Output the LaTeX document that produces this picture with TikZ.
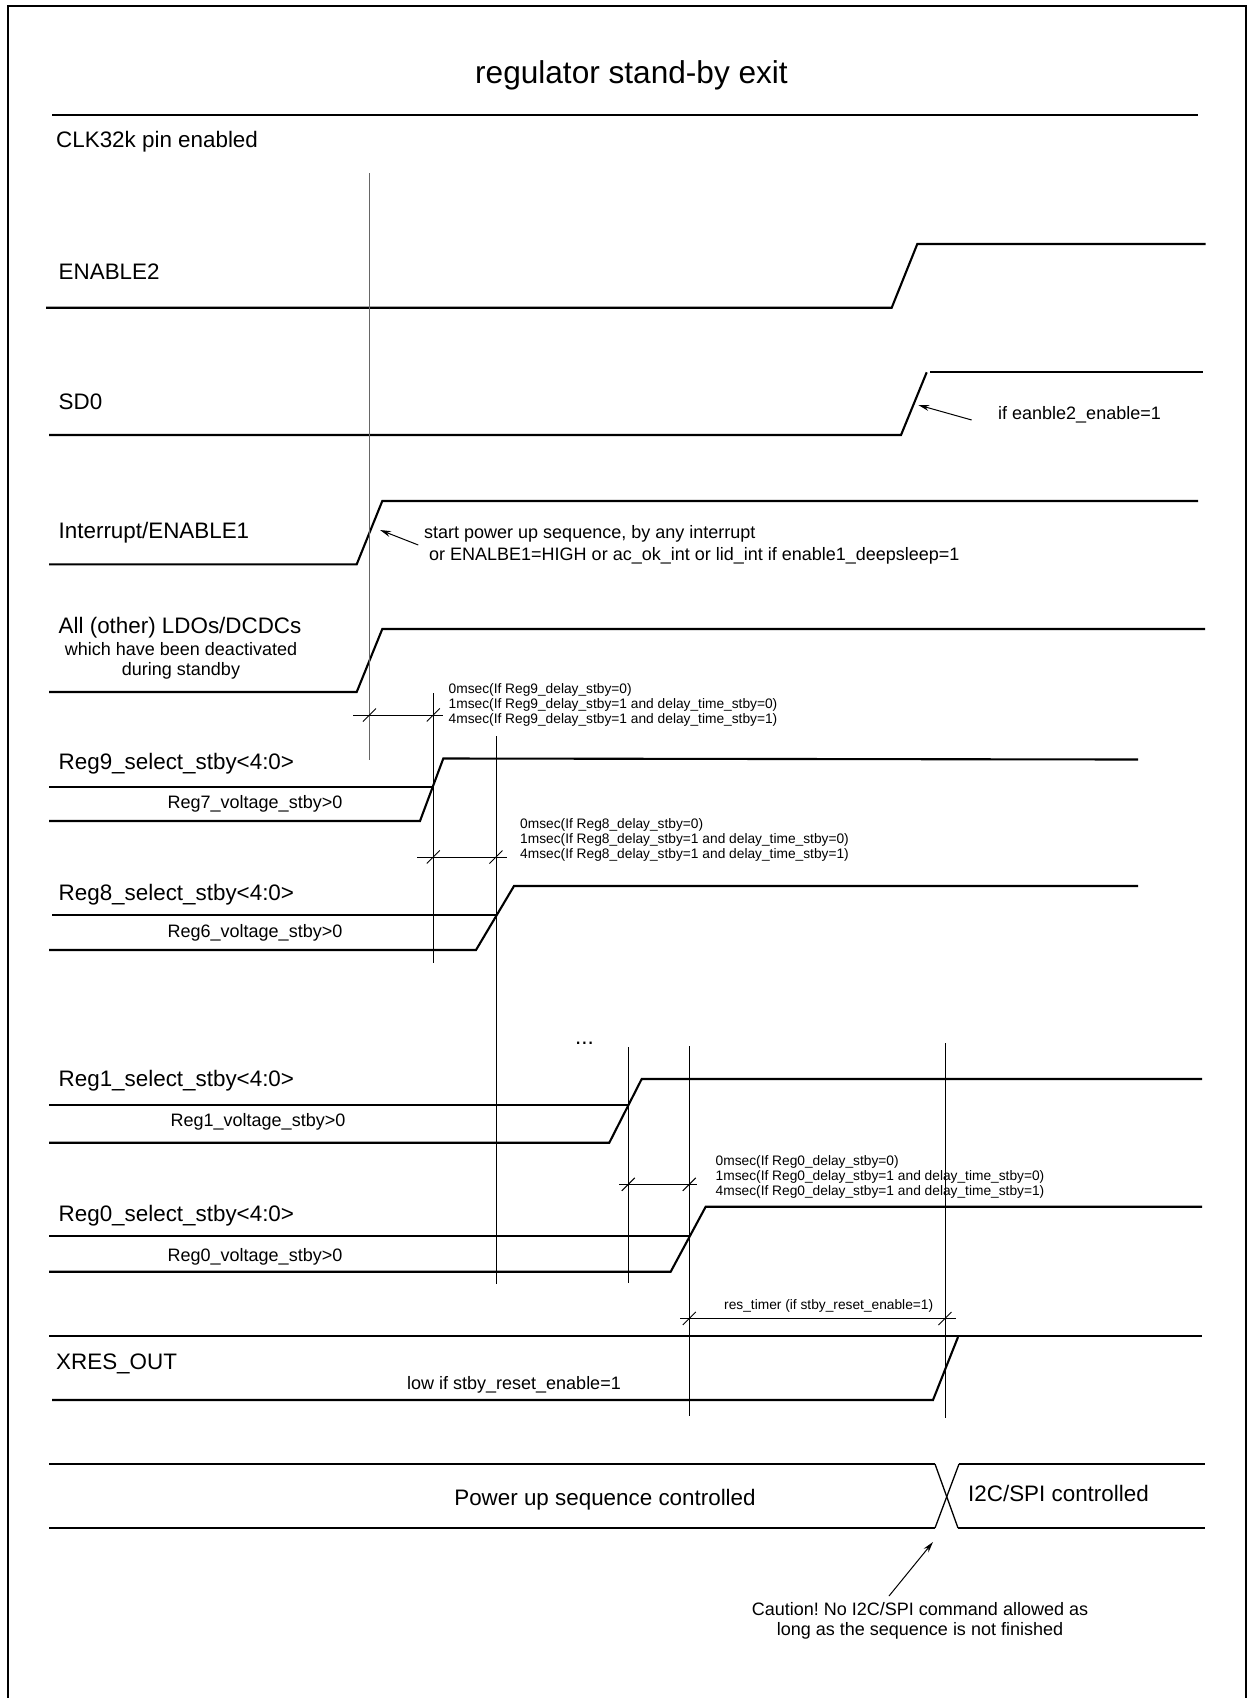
\documentclass[tikz,border=0pt]{standalone}
\usepackage{fontspec}
\setmainfont{Liberation Sans}
\usetikzlibrary{arrows.meta}
\frenchspacing
\begin{document}
\begin{tikzpicture}[x=1pt,y=-1pt,
  sig/.style={line width=2.1pt, line join=miter, line cap=butt},
  thinln/.style={line width=1pt},
  xln/.style={line width=1.3pt},
  frame/.style={line width=1.8pt},
  lbl/.style={inner sep=0pt, anchor=base west, font=\fontsize{22.4}{26}\selectfont},
  ann/.style={inner sep=0pt, font=\fontsize{18}{21}\selectfont},
  small/.style={inner sep=0pt, anchor=base west, font=\fontsize{13.75}{15}\selectfont},
  arr/.style={line width=1pt, -{Stealth[length=11pt,width=6pt]}},
  tk/.pic={\draw[line width=0.9pt] (-6.5,6.5) -- (6.5,-6.5);}
]
\useasboundingbox (0,0) rectangle (1250,1698);
% frame (no bottom edge)
\draw[frame] (8,1700) -- (8,6) -- (1246,6) -- (1246,1700);

% title and separator
\node[inner sep=0pt, anchor=base, font=\fontsize{31.6}{36}\selectfont] (title) at (631.5,83) {regulator stand-by exit};
\draw[sig] (52,115) -- (1198,115);

% labels
\node[lbl] (clk) at (56,147.3) {CLK32k pin enabled};
\node[lbl] (en2) at (58.5,279.3) {ENABLE2};
\node[lbl] (sd0) at (58.5,409) {SD0};
\node[lbl] (int) at (58.5,538.5) {Interrupt/ENABLE1};
\node[lbl] (ldo) at (58.5,633) {All (other) LDOs/DCDCs};
\node[ann, anchor=base] (ldob) at (181,655) {which have been deactivated};
\node[ann, anchor=base] (ldoc) at (181,675) {during standby};
\node[lbl] (r9) at (58.5,769) {Reg9\_select\_stby<4:0>};
\node[ann, anchor=base] (r9v) at (255,808) {Reg7\_voltage\_stby>0};
\node[lbl] (r8) at (58.5,900) {Reg8\_select\_stby<4:0>};
\node[ann, anchor=base] (r8v) at (255,937) {Reg6\_voltage\_stby>0};
\node[lbl] (dots) at (575,1044) {...};
\node[lbl] (r1) at (58.5,1086) {Reg1\_select\_stby<4:0>};
\node[ann, anchor=base] (r1v) at (258,1126) {Reg1\_voltage\_stby>0};
\node[lbl] (r0) at (58.5,1221) {Reg0\_select\_stby<4:0>};
\node[ann, anchor=base] (r0v) at (255,1261) {Reg0\_voltage\_stby>0};
\node[lbl] (xres) at (56,1369) {XRES\_OUT};
\node[ann, anchor=base] (xresv) at (514,1389) {low if stby\_reset\_enable=1};
\node[lbl, anchor=base] (pus) at (605,1505) {Power up sequence controlled};
\node[lbl] (i2c) at (968,1501.5) {I2C/SPI controlled};

% signals
\draw[sig] (46,307.7) -- (891.7,307.7) -- (917.3,244) -- (1205.7,244);
\draw[sig] (49,435) -- (901,435) -- (926.7,372.3);
\draw[sig] (930,372.3) -- (1203.3,372.3);
\draw[sig] (49,564.3) -- (356.7,564.3) -- (382.3,501) -- (1198,501);
\draw[sig] (49,692) -- (356.7,692) -- (382.3,629) -- (1205,629);
% Reg9
\draw[sig] (49,787) -- (433.3,787);
\draw[sig] (49,821) -- (420,821) -- (443.3,758.5) -- (1138,759.5);
% Reg8
\draw[sig] (52,915) -- (496,915);
\draw[sig] (49,950) -- (476,950) -- (514,886) -- (1138,886);
% Reg1
\draw[sig] (49,1105) -- (628.3,1105);
\draw[sig] (49,1142.7) -- (609.3,1142.7) -- (641.7,1079) -- (1202,1079);
% Reg0
\draw[sig] (49,1236) -- (689.3,1236);
\draw[sig] (49,1271.7) -- (670.7,1271.7) -- (705.7,1206.7) -- (1202,1206.7);
% XRES_OUT
\draw[sig] (49,1336) -- (1202,1336);
\draw[sig] (52,1400) -- (933,1400) -- (958,1337);
% bus
\draw[sig] (49,1464) -- (935,1464);
\draw[sig] (959,1464) -- (1205,1464);
\draw[sig] (49,1528) -- (935,1528);
\draw[sig] (958,1528) -- (1205,1528);
\draw[xln] (935,1464) -- (958,1528);
\draw[xln] (959,1464) -- (935,1528);

% vertical reference lines
\draw[thinln, black!60] (369.5,173) -- (369.5,760);
\draw[thinln] (433.3,693) -- (433.3,963);
\draw[thinln] (496,736) -- (496,1284);
\draw[thinln] (628.3,1047) -- (628.3,1283);
\draw[thinln] (689.3,1046) -- (689.3,1416);
\draw[thinln] (945,1043) -- (945,1418);

% dimension lines
\draw[thinln] (353,715) -- (443,715);
\pic at (369.5,715) {tk};
\pic at (433.3,715) {tk};
\draw[thinln] (417,857) -- (507,857);
\pic at (433.3,857) {tk};
\pic at (496,857) {tk};
\draw[thinln] (619,1184.3) -- (697.3,1184.3);
\pic at (628.3,1184.3) {tk};
\pic at (689.3,1184.3) {tk};
\draw[thinln] (680,1318.5) -- (956,1318.5);
\pic at (689.3,1318.5) {tk};
\pic at (945,1318.5) {tk};

% delay texts
\node[small] (d9a) at (448.5,693.5) {0msec(If Reg9\_delay\_stby=0)};
\node[small] (d9b) at (448.5,708.5) {1msec(If Reg9\_delay\_stby=1 and delay\_time\_stby=0)};
\node[small] (d9c) at (448.5,723.5) {4msec(If Reg9\_delay\_stby=1 and delay\_time\_stby=1)};
\node[small] (d8a) at (520,828.5) {0msec(If Reg8\_delay\_stby=0)};
\node[small] (d8b) at (520,843.5) {1msec(If Reg8\_delay\_stby=1 and delay\_time\_stby=0)};
\node[small] (d8c) at (520,858.5) {4msec(If Reg8\_delay\_stby=1 and delay\_time\_stby=1)};
\node[small] (d0a) at (715.5,1165) {0msec(If Reg0\_delay\_stby=0)};
\node[small] (d0b) at (715.5,1180) {1msec(If Reg0\_delay\_stby=1 and delay\_time\_stby=0)};
\node[small] (d0c) at (715.5,1195) {4msec(If Reg0\_delay\_stby=1 and delay\_time\_stby=1)};
\node[small] (rt) at (724,1309) {res\_timer (if stby\_reset\_enable=1)};

% annotations with arrows
\node[ann, anchor=base west] (sta) at (424,538.5) {start power up sequence, by any interrupt};
\node[ann, anchor=base west] (stb) at (424,560) {\ or ENALBE1=HIGH or ac\_ok\_int or lid\_int if enable1\_deepsleep=1};
\coordinate (sttail) at (418.3,545);
\coordinate (sttip) at (380,530);
\draw[arr] (sttail) -- (sttip);

\node[ann, anchor=base west] (sdn) at (998,419.5) {if eanble2\_enable=1};
\coordinate (sdtail) at (971.7,420);
\coordinate (sdtip) at (918.3,405);
\draw[arr] (sdtail) -- (sdtip);

\node[ann, anchor=base] (ca) at (920,1615) {Caution! No I2C/SPI command allowed as};
\node[ann, anchor=base] (cb) at (920,1635.5) {long as the sequence is not finished};
\coordinate (catail) at (889,1596);
\coordinate (catip) at (933,1542);
\draw[arr] (catail) -- (catip);
\end{tikzpicture}
\end{document}
